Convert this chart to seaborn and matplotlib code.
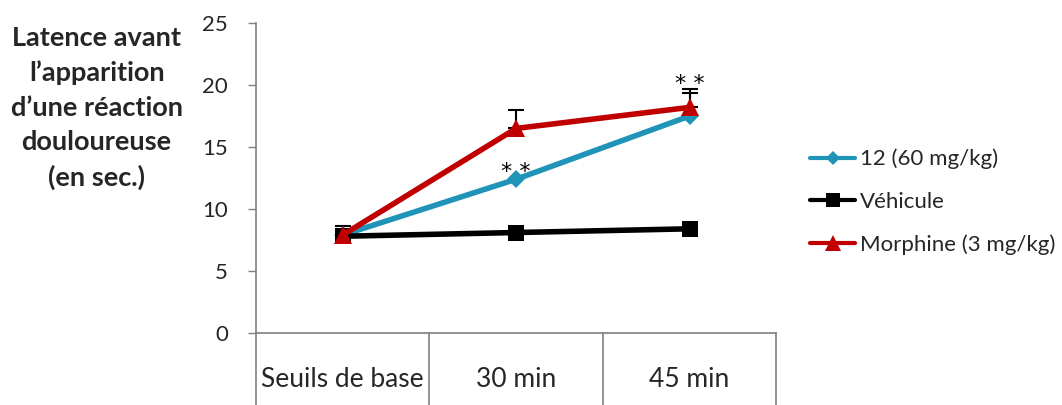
import matplotlib
matplotlib.use("Agg")
import matplotlib.pyplot as plt
import seaborn as sns
import pandas as pd
import numpy as np
from matplotlib.lines import Line2D

categories = ["Seuils de base", "30 min", "45 min"]
series_names = ["12 (60 mg/kg)", "Véhicule", "Morphine (3 mg/kg)"]
vals_12 = [7.9, 12.4, 17.5]
vals_veh = [7.8, 8.1, 8.4]
vals_morph = [7.9, 16.5, 18.2]
err_12 = [0.0, 0.0, 1.85]
err_veh = [0.8, 0.0, 0.0]
err_morph = [0.0, 1.5, 1.5]
yticks = [0, 5, 10, 15, 20, 25]
stars = [("30 min", 13.0), ("45 min", 20.1)]

colors = ["#1f94b8", "#000000", "#c00000"]
markers = ["D", "s", "^"]
msizes = [9, 12, 13]

sns.set_theme(style="white")
plt.rcParams['font.family'] = ['Lato', 'DejaVu Sans']

fig = plt.figure(figsize=(10.62, 4.05), dpi=100)
ax = fig.add_axes([0.241, 0.178, 0.49, 0.765])

rows = []
for name, vals in zip(series_names, [vals_12, vals_veh, vals_morph]):
    for i, (c, v) in enumerate(zip(categories, vals)):
        rows.append({"serie": name, "x": i, "val": v})
df = pd.DataFrame(rows)

order = [1, 0, 2]
errs = [err_12, err_veh, err_morph]
vals_all = [vals_12, vals_veh, vals_morph]
for k in order:
    name = series_names[k]
    sub = df[df.serie == name]
    sns.lineplot(data=sub, x="x", y="val", ax=ax, color=colors[k], lw=4,
                 marker=markers[k], markersize=msizes[k], markeredgewidth=0,
                 legend=False, zorder=3 + k)
    e = np.array(errs[k])
    xs = np.arange(3)
    mask = e > 0
    ax.errorbar(xs[mask], np.array(vals_all[k])[mask], yerr=[np.zeros(mask.sum()), e[mask]],
                fmt="none", ecolor="black", elinewidth=1.5, capsize=6, capthick=1.5, zorder=2)

for cat, y in stars:
    ax.text(categories.index(cat), y, "* *", ha="center", va="center", fontsize=16,
            color="black", fontfamily="DejaVu Sans")

ax.set_xlim(-0.5, 2.5)
ax.set_ylim(0, 25)
ax.set_yticks(yticks)
ax.set_yticklabels([str(t) for t in yticks], fontsize=16)
ax.tick_params(axis="y", direction="out", length=6, width=1, color="#808080", pad=14, left=True)
ax.set_xticks([])
ax.set_xlabel("")
ax.set_ylabel("")
for s in ["top", "right"]:
    ax.spines[s].set_visible(False)
for s in ["left", "bottom"]:
    ax.spines[s].set_color("#808080")
    ax.spines[s].set_linewidth(1.2)

for b in [-0.5, 0.5, 1.5, 2.5]:
    ax.plot([b, b], [0, -0.25], transform=ax.get_xaxis_transform(), color="#808080",
            lw=1.2, clip_on=False)
for i, c in enumerate(categories):
    ax.text(i, -0.15, c, transform=ax.get_xaxis_transform(), ha="center", va="center",
            fontsize=19)

fig.text(0.091, 0.733, "Latence avant\nl’apparition\nd’une réaction\ndouloureuse\n(en sec.)",
         ha="center", va="center", fontsize=19.5, fontweight="bold", linespacing=1.52)

handles = [Line2D([0], [0], color=colors[k], lw=3, marker=markers[k],
                  markersize=msizes[k] - 2, markeredgewidth=0) for k in range(3)]
fig.legend(handles, series_names, loc="center left", bbox_to_anchor=(0.763, 0.502),
           frameon=False, fontsize=16, handlelength=2.0, handletextpad=0.25,
           labelspacing=1.0, borderpad=0, borderaxespad=0)

fig.savefig("out.png", dpi=100)
